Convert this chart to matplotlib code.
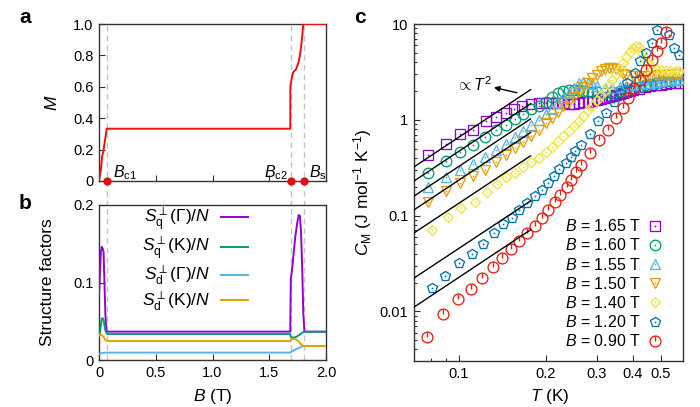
import matplotlib
matplotlib.use('Agg')
import matplotlib.pyplot as plt
from matplotlib.path import Path
from matplotlib.ticker import FixedLocator, NullFormatter, FixedFormatter

plt.rcParams['font.family'] = ['Liberation Sans', 'DejaVu Sans']
plt.rcParams['mathtext.fontset'] = 'custom'
plt.rcParams['mathtext.rm'] = 'Liberation Sans'
plt.rcParams['mathtext.it'] = 'Liberation Sans:italic'
plt.rcParams['mathtext.bf'] = 'Liberation Sans:bold'

# ---------------- Panel a: magnetization ----------------
B_M = [0, 0.018, 0.027, 0.038, 0.053, 0.068, 1.685, 1.686, 1.70, 1.71, 1.72, 1.735,
       1.75, 1.76, 1.77, 1.78, 1.79, 1.80, 2.0]
M_vals = [0, 0.08, 0.155, 0.19, 0.26, 0.333, 0.333, 0.605, 0.66, 0.69, 0.70, 0.71,
          0.74, 0.76, 0.80, 0.85, 0.92, 1.0, 1.0]
B_crit = [0.073, 1.69, 1.81]

# ---------------- Panel b: structure factors ----------------
B_sf = [0, 0.008, 0.016, 0.024, 0.032, 0.04, 0.048, 0.056, 0.065, 0.075, 1.60, 1.685,
        1.69, 1.70, 1.71, 1.72, 1.73, 1.74, 1.75, 1.76, 1.77, 1.78, 1.79, 1.80, 1.81,
        1.82, 2.0]
Sq_G = [0.084, 0.11, 0.138, 0.146, 0.144, 0.14, 0.10, 0.06, 0.037, 0.0366, 0.0366, 0.0366,
        0.105, 0.115, 0.13, 0.145, 0.16, 0.17, 0.18, 0.187, 0.186, 0.165, 0.12, 0.06,
        0.0365, 0.0365, 0.0365]
Sq_K = [0.030, 0.034, 0.045, 0.053, 0.054, 0.052, 0.045, 0.038, 0.035, 0.0335, 0.0335,
        0.0335, 0.030, 0.029, 0.029, 0.029, 0.0295, 0.030, 0.031, 0.032, 0.033, 0.034,
        0.035, 0.036, 0.0365, 0.0365, 0.0365]
Sd_G = [0.0075, 0.008, 0.0085, 0.009, 0.009, 0.0095, 0.0095, 0.0095, 0.0095, 0.0095,
        0.0095, 0.0095, 0.0105, 0.011, 0.012, 0.013, 0.0135, 0.014, 0.015, 0.0155, 0.016,
        0.017, 0.0175, 0.018, 0.018, 0.018, 0.018]
Sd_K = [0.032, 0.033, 0.033, 0.032, 0.031, 0.030, 0.028, 0.026, 0.025, 0.0245, 0.0245,
        0.0245, 0.026, 0.027, 0.027, 0.027, 0.027, 0.026, 0.025, 0.024, 0.022, 0.020,
        0.019, 0.018, 0.018, 0.018, 0.018]
sf_labels = [r'$S^{\perp}_{\rm q}(\Gamma)/N$', r'$S^{\perp}_{\rm q}(\mathrm{K})/N$',
             r'$S^{\perp}_{\rm d}(\Gamma)/N$', r'$S^{\perp}_{\rm d}(\mathrm{K})/N$']

# ---------------- Panel c: specific heat ----------------
T_165 = [0.078, 0.090, 0.101, 0.112, 0.124, 0.134, 0.145, 0.155, 0.166, 0.177, 0.189, 0.20,
         0.21, 0.22, 0.23, 0.24, 0.25, 0.26, 0.27, 0.28, 0.29, 0.30, 0.31, 0.32, 0.33, 0.34,
         0.35, 0.36, 0.37, 0.38, 0.39, 0.40, 0.42, 0.44, 0.46, 0.48, 0.50, 0.52, 0.54, 0.56, 0.58]
C_165 = [0.43, 0.56, 0.71, 0.79, 0.98, 1.07, 1.17, 1.29, 1.40, 1.47, 1.49, 1.50,
         1.50, 1.49, 1.48, 1.47, 1.47, 1.50, 1.52, 1.55, 1.58, 1.62, 1.65, 1.70, 1.74, 1.78,
         1.82, 1.86, 1.90, 1.95, 2.0, 2.05, 2.12, 2.2, 2.25, 2.3, 2.33, 2.37, 2.4, 2.43, 2.45]

T_160 = [0.078, 0.090, 0.101, 0.112, 0.123, 0.134, 0.145, 0.156, 0.167, 0.178, 0.189, 0.200,
         0.21, 0.22, 0.23, 0.24, 0.25, 0.26, 0.27, 0.28, 0.29, 0.30, 0.32, 0.34, 0.36, 0.38,
         0.40, 0.42, 0.44, 0.46, 0.48, 0.50, 0.52, 0.54, 0.56, 0.58]
C_160 = [0.28, 0.37, 0.46, 0.55, 0.66, 0.78, 0.89, 1.02, 1.16, 1.29, 1.40, 1.55,
         1.75, 1.90, 2.0, 2.05, 2.05, 2.03, 2.0, 1.97, 1.95, 1.93, 1.92, 1.95, 2.0, 2.07,
         2.13, 2.2, 2.28, 2.35, 2.42, 2.47, 2.52, 2.56, 2.6, 2.62]

T_155 = [0.078, 0.090, 0.101, 0.112, 0.123, 0.134, 0.145, 0.156, 0.167, 0.178, 0.189, 0.200,
         0.21, 0.22, 0.23, 0.24, 0.25, 0.26, 0.27, 0.28, 0.29, 0.30, 0.32, 0.34, 0.36, 0.38,
         0.40, 0.42, 0.44, 0.46, 0.48, 0.50, 0.52, 0.54, 0.56, 0.58]
C_155 = [0.20, 0.25, 0.30, 0.345, 0.41, 0.48, 0.56, 0.66, 0.77, 0.88, 1.0, 1.15,
         1.3, 1.48, 1.68, 1.9, 2.15, 2.4, 2.5, 2.45, 2.35, 2.25, 2.15, 2.15, 2.2, 2.25,
         2.3, 2.35, 2.4, 2.45, 2.5, 2.55, 2.58, 2.6, 2.62, 2.65]

T_150 = [0.078, 0.090, 0.101, 0.112, 0.123, 0.134, 0.145, 0.156, 0.167, 0.178, 0.189, 0.200,
         0.21, 0.22, 0.23, 0.24, 0.25, 0.26, 0.27, 0.28, 0.29, 0.30, 0.31, 0.32, 0.33, 0.34,
         0.35, 0.36, 0.37, 0.38, 0.40, 0.42, 0.44, 0.46, 0.48, 0.50, 0.52, 0.54, 0.56, 0.58]
C_150 = [0.14, 0.18, 0.22, 0.26, 0.30, 0.36, 0.43, 0.51, 0.58, 0.67, 0.78, 0.92,
         1.05, 1.2, 1.38, 1.55, 1.75, 1.95, 2.2, 2.45, 2.7, 2.95, 3.2, 3.4, 3.5, 3.5,
         3.4, 3.2, 3.0, 2.9, 2.85, 2.85, 2.85, 2.88, 2.9, 2.92, 2.95, 2.95, 2.97, 3.0]

T_140 = [0.081, 0.092, 0.102, 0.114, 0.125, 0.136, 0.146, 0.156, 0.167, 0.178, 0.189, 0.20,
         0.21, 0.22, 0.23, 0.24, 0.25, 0.26, 0.27, 0.28, 0.29, 0.30, 0.31, 0.32, 0.33, 0.34,
         0.35, 0.36, 0.37, 0.38, 0.39, 0.40, 0.41, 0.42, 0.43, 0.44, 0.45, 0.46, 0.48, 0.50,
         0.52, 0.54, 0.56, 0.58]
C_140 = [0.070, 0.096, 0.119, 0.138, 0.176, 0.213, 0.25, 0.28, 0.32, 0.36, 0.40, 0.46,
         0.52, 0.60, 0.68, 0.77, 0.87, 0.98, 1.1, 1.25, 1.4, 1.6, 1.8, 2.0, 2.3, 2.6,
         3.0, 3.4, 3.9, 4.5, 5.1, 5.6, 5.9, 5.7, 5.0, 4.3, 3.9, 3.6, 3.4, 3.3,
         3.25, 3.2, 3.2, 3.2]

T_120 = [0.0804, 0.0895, 0.100, 0.111, 0.121, 0.132, 0.142, 0.153, 0.162, 0.172, 0.183, 0.194,
         0.204, 0.213, 0.223, 0.234, 0.245, 0.253, 0.265, 0.284, 0.303, 0.324, 0.345, 0.36,
         0.383, 0.407, 0.423, 0.444, 0.467, 0.485, 0.532, 0.556, 0.58]
C_120 = [0.0177, 0.0236, 0.0323, 0.0395, 0.0506, 0.0655, 0.081, 0.094, 0.113, 0.135, 0.161, 0.186,
         0.218, 0.26, 0.305, 0.358, 0.407, 0.467, 0.548, 0.714, 0.96, 1.17, 1.55, 1.9,
         2.42, 3.07, 4.06, 4.97, 6.33, 8.6, 7.6, 5.6, 4.8]

T_090 = [0.0773, 0.0883, 0.099, 0.110, 0.120, 0.131, 0.1415, 0.152, 0.162, 0.172, 0.183, 0.194,
         0.204, 0.215, 0.2235, 0.236, 0.245, 0.255, 0.265, 0.284, 0.306, 0.327, 0.349, 0.370,
         0.385, 0.403, 0.423, 0.444, 0.466, 0.485, 0.502, 0.52]
C_090 = [0.00544, 0.0094, 0.0135, 0.017, 0.0222, 0.0289, 0.0364, 0.0446, 0.0536, 0.0655, 0.078, 0.095,
         0.115, 0.14, 0.165, 0.198, 0.236, 0.288, 0.339, 0.449, 0.608, 0.786, 1.04, 1.32,
         1.69, 2.14, 2.62, 3.33, 4.17, 5.17, 6.33, 8.2]

field_labels = [r'$B$ = 1.65 T', r'$B$ = 1.60 T', r'$B$ = 1.55 T', r'$B$ = 1.50 T',
                r'$B$ = 1.40 T', r'$B$ = 1.20 T', r'$B$ = 0.90 T']

# T^2 guide lines (start and end values)
guide_T = [0.07, 0.177]
guide_C_start = [0.323, 0.23, 0.16, 0.115, 0.066, 0.0223, 0.0111]
guide_C_end = [2.06, 1.47, 1.02, 0.735, 0.42, 0.142, 0.071]

# ---------------- styling ----------------
c_purple = '#9400D3'
c_green = '#009E73'
c_sky = '#56B4E9'
c_orange = '#E69F00'
c_yellow = '#F0E442'
c_blue = '#0072B2'
c_red = '#E51E10'
spine_col = '#333333'
dash_col = '#c4c4c4'
tick_fs = 10.5
label_fs = 12.5

fig = plt.figure(figsize=(7.0, 4.07), dpi=100)
axa = fig.add_axes([99/700, 1-181/407, 227/700, 157/407])
axb = fig.add_axes([99/700, 1-360/407, 227/700, 155/407])
axc = fig.add_axes([414/700, 1-361/407, 269/700, 337/407])

for ax in (axa, axb, axc):
    for s in ax.spines.values():
        s.set_color(spine_col)
        s.set_linewidth(1.0)
    ax.tick_params(which='both', direction='in', labelsize=tick_fs, color=spine_col,
                   width=0.8, pad=4)
    ax.tick_params(which='major', length=4)
    ax.tick_params(which='minor', length=2.5)

# ---- panel a
axa.plot(B_M, M_vals, color='#ee1111', lw=1.4, zorder=3)
for bc in B_crit:
    axa.axvline(bc, ymin=-0.16, ymax=1, color=dash_col, lw=1, ls=(0, (4, 3)),
                clip_on=False, zorder=1)
    axb.axvline(bc, color=dash_col, lw=1, ls=(0, (4, 3)), zorder=1)
axa.plot(B_crit, [0, 0, 0], ls='none', marker='o', ms=5, color='#dd1111',
         clip_on=False, zorder=5)
axa.set_xlim(0, 2)
axa.set_ylim(0, 1)
axa.xaxis.set_major_locator(FixedLocator([0, 0.5, 1.0, 1.5, 2.0]))
axa.xaxis.set_major_formatter(NullFormatter())
axa.yaxis.set_major_locator(FixedLocator([0, 0.2, 0.4, 0.6, 0.8, 1.0]))
axa.yaxis.set_major_formatter(FixedFormatter(['0', '0.2', '0.4', '0.6', '0.8', '1.0']))
axa.set_ylabel(r'$M$', fontsize=label_fs, va='center')
axa.yaxis.set_label_coords(-0.205, 0.5)
axa.text(0.12, 0.05, r'$B_{\rm c1}$', fontsize=11.5, ha='left', va='center')
axa.text(1.665, 0.05, r'$B_{\rm c2}$', fontsize=11.5, ha='right', va='center')
axa.text(1.85, 0.05, r'$B_{\rm s}$', fontsize=11.5, ha='left', va='center')

# ---- panel b
hb = []
hb.append(axb.plot(B_sf, Sq_G, color=c_purple, lw=1.4, zorder=3)[0])
hb.append(axb.plot(B_sf, Sq_K, color=c_green, lw=1.4, zorder=4)[0])
hb.append(axb.plot(B_sf, Sd_G, color=c_sky, lw=1.4, zorder=3)[0])
hb.append(axb.plot(B_sf, Sd_K, color=c_orange, lw=1.4, zorder=4)[0])
axb.set_xlim(0, 2)
axb.set_ylim(0, 0.2)
axb.xaxis.set_major_locator(FixedLocator([0, 0.5, 1.0, 1.5, 2.0]))
axb.xaxis.set_major_formatter(FixedFormatter(['0', '0.5', '1.0', '1.5', '2.0']))
axb.yaxis.set_major_locator(FixedLocator([0, 0.1, 0.2]))
axb.yaxis.set_major_formatter(FixedFormatter(['0', '0.1', '0.2']))
axb.set_ylabel('Structure factors', fontsize=label_fs, va='center')
axb.yaxis.set_label_coords(-0.225, 0.5)
axb.set_xlabel(r'$B$ (T)', fontsize=label_fs, va='center')
axb.xaxis.set_label_coords(0.5, -0.235)
axb.legend(hb, sf_labels, loc='center right', bbox_to_anchor=(0.658, 0.65),
           frameon=False, markerfirst=False, fontsize=12.5, handlelength=1.6,
           handletextpad=0.6, labelspacing=0.12, borderpad=0, borderaxespad=0)

# ---- panel c
tick_path = Path([(0, 0), (0, 1)])
series = [
    (T_165, C_165, 's', 7.0, c_purple),
    (T_160, C_160, 'o', 7.6, c_green),
    (T_155, C_155, '^', 7.6, c_sky),
    (T_150, C_150, 'v', 7.6, c_orange),
    (T_140, C_140, 'D', 5.3, c_yellow),
    (T_120, C_120, 'p', 7.6, c_blue),
    (T_090, C_090, 'o', 7.8, c_red),
]
for Cs, Ce in zip(guide_C_start, guide_C_end):
    axc.plot(guide_T, [Cs, Ce], color='black', lw=1.0, zorder=6)

hc = []
for i, (T, C, mk, ms, col) in enumerate(series):
    h1, = axc.plot(T, C, ls='none', marker=mk, ms=ms, mfc='none', mec=col, mew=0.95,
                   zorder=3 + i * 0.1)
    if i == 6:
        h2, = axc.plot(T, C, ls='none', marker=tick_path, ms=ms, mec=col, mew=0.95,
                       zorder=3 + i * 0.1)
    else:
        h2, = axc.plot(T, C, ls='none', marker='o', ms=1.3, mfc=col, mec=col, mew=0,
                       zorder=3 + i * 0.1)
    hc.append((h1, h2))

axc.set_xscale('log')
axc.set_yscale('log')
axc.set_xlim(0.0699, 0.597)
axc.set_ylim(0.00303, 10)
axc.xaxis.set_major_locator(FixedLocator([0.1, 0.2, 0.3, 0.4, 0.5]))
axc.xaxis.set_major_formatter(FixedFormatter(['0.1', '0.2', '0.3', '0.4', '0.5']))
axc.xaxis.set_minor_locator(FixedLocator([0.07, 0.08, 0.09]))
axc.xaxis.set_minor_formatter(NullFormatter())
axc.yaxis.set_major_locator(FixedLocator([0.01, 0.1, 1, 10]))
axc.yaxis.set_major_formatter(FixedFormatter(['0.01', '0.1', '1', '10']))
axc.set_ylabel(r'$C_{\rm M}$ (J mol$^{-1}$ K$^{-1}$)', fontsize=label_fs, va='center')
axc.yaxis.set_label_coords(-0.19, 0.5)
axc.set_xlabel(r'$T$ (K)', fontsize=label_fs, va='center')
axc.xaxis.set_label_coords(0.506, -0.106)

axc.text(0.1127, 2.32, r'$\propto T^2$', fontsize=11.5, ha='center', va='center')
axc.annotate('', xy=(0.1322, 2.175), xytext=(0.1587, 1.915),
             arrowprops=dict(arrowstyle='-|>', color='black', lw=1.0,
                             shrinkA=0, shrinkB=0, mutation_scale=8))

axc.legend(hc, field_labels, loc='center right', bbox_to_anchor=(0.926, 0.229),
           frameon=False, markerfirst=False, fontsize=11.5, handlelength=1.0,
           handletextpad=0.4, labelspacing=0.2, borderpad=0, borderaxespad=0)

# panel letters
fig.text(0.036, 0.958, 'a', fontsize=15, fontweight='bold', ha='center', va='center')
fig.text(0.036, 0.499, 'b', fontsize=15, fontweight='bold', ha='center', va='center')
fig.text(0.514, 0.956, 'c', fontsize=15, fontweight='bold', ha='center', va='center')

fig.savefig('out.png', dpi=100)
